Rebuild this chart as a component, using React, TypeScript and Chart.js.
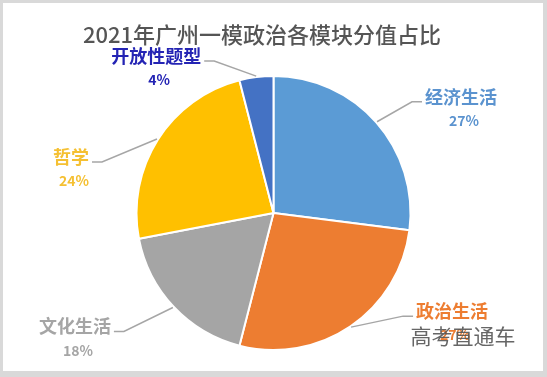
import React, { useEffect, useRef } from "react";
import { Chart, registerables } from "chart.js";

Chart.register(...registerables);

const titleText = "2021年广州一模政治各模块分值占比";
const categories = ["经济生活", "政治生活", "文化生活", "哲学", "开放性题型"];
const values = [27, 27, 18, 24, 4];
const sliceColors = ["#5B9BD5", "#ED7D31", "#A5A5A5", "#FFC000", "#4472C4"];
const labelColors = ["#5B93CF", "#ED7D31", "#A5A5A5", "#F5C032", "#2424B4"];
const watermark = "高考直通车";

// label placement offsets relative to the slice's outer mid point (style, not data)
const labelOffsets: [number, number][] = [
  [84, -25],
  [101, -16],
  [-98, 19],
  [-86, 18],
  [-100, -20],
];

const labelPlugin = {
  id: "customLabels",
  beforeDraw(chart: any) {
    const ctx = chart.ctx;
    ctx.save();
    ctx.fillStyle = "#D9D9D9";
    ctx.fillRect(0, 0, chart.width, chart.height);
    ctx.fillStyle = "#FFFFFF";
    ctx.fillRect(3, 3, 540, 368);
    ctx.restore();
  },
  afterDraw(chart: any) {
    const ctx = chart.ctx;
    const meta = chart.getDatasetMeta(0);
    const total = values.reduce((a, b) => a + b, 0);
    ctx.save();
    ctx.font = '500 22px "Noto Sans CJK SC"';
    ctx.fillStyle = "#555555";
    ctx.textAlign = "center";
    ctx.textBaseline = "middle";
    ctx.fillText(titleText, 262, 35);

    meta.data.forEach((arc: any, i: number) => {
      const { x, y, startAngle, endAngle, outerRadius } = arc.getProps(
        ["x", "y", "startAngle", "endAngle", "outerRadius"],
        true
      );
      const mid = (startAngle + endAngle) / 2;
      const ex = x + Math.cos(mid) * (outerRadius + 1);
      const ey = y + Math.sin(mid) * (outerRadius + 1);
      const [dx, dy] = labelOffsets[i];
      const cx = ex + dx;
      const cy = ey + dy;
      const name = categories[i];
      ctx.font = 'bold 18px "Noto Sans CJK SC"';
      const w = ctx.measureText(name).width;
      const right = dx > 0;
      const endX = right ? cx - w / 2 - 3 : cx + w / 2 + 3;
      const endY = cy + 5;
      const elbowX = right ? endX - 10 : endX + 10;
      ctx.strokeStyle = "#A6A6A6";
      ctx.lineWidth = 1.5;
      ctx.beginPath();
      ctx.moveTo(ex, ey);
      ctx.lineTo(elbowX, endY);
      ctx.lineTo(endX, endY);
      ctx.stroke();

      ctx.fillStyle = labelColors[i];
      ctx.textAlign = "center";
      ctx.textBaseline = "middle";
      ctx.fillText(name, cx, cy);
      ctx.font = 'bold 14px "Noto Sans CJK SC"';
      const pct = Math.round((values[i] / total) * 100) + "%";
      ctx.fillText(pct, cx + 3, cy + 24);
    });

    ctx.font = '21px "Noto Sans CJK SC"';
    ctx.fillStyle = "rgba(85,85,85,0.9)";
    ctx.textAlign = "center";
    ctx.textBaseline = "middle";
    ctx.fillText(watermark, 463, 336);
    ctx.restore();
  },
};

export default function App() {
  const ref = useRef<HTMLCanvasElement | null>(null);
  useEffect(() => {
    document.body.style.margin = "0";
    if (!ref.current) return;
    const chart = new Chart(ref.current, {
      type: "pie",
      data: {
        labels: categories,
        datasets: [
          {
            data: values,
            backgroundColor: sliceColors,
            borderColor: "#FFFFFF",
            borderWidth: 2,
          },
        ],
      },
      options: {
        responsive: false,
        animation: false,
        layout: {
          padding: { left: 135.5, right: 135.5, top: 75, bottom: 26 },
        },
        plugins: {
          legend: { display: false },
          tooltip: { enabled: false },
          title: { display: false },
        },
      },
      plugins: [labelPlugin],
    });
    return () => chart.destroy();
  }, []);
  return (
    <div style={{ position: "absolute", left: 0, top: 0, width: 547, height: 377 }}>
      <canvas ref={ref} width={547} height={377} style={{ display: "block" }} />
    </div>
  );
}
